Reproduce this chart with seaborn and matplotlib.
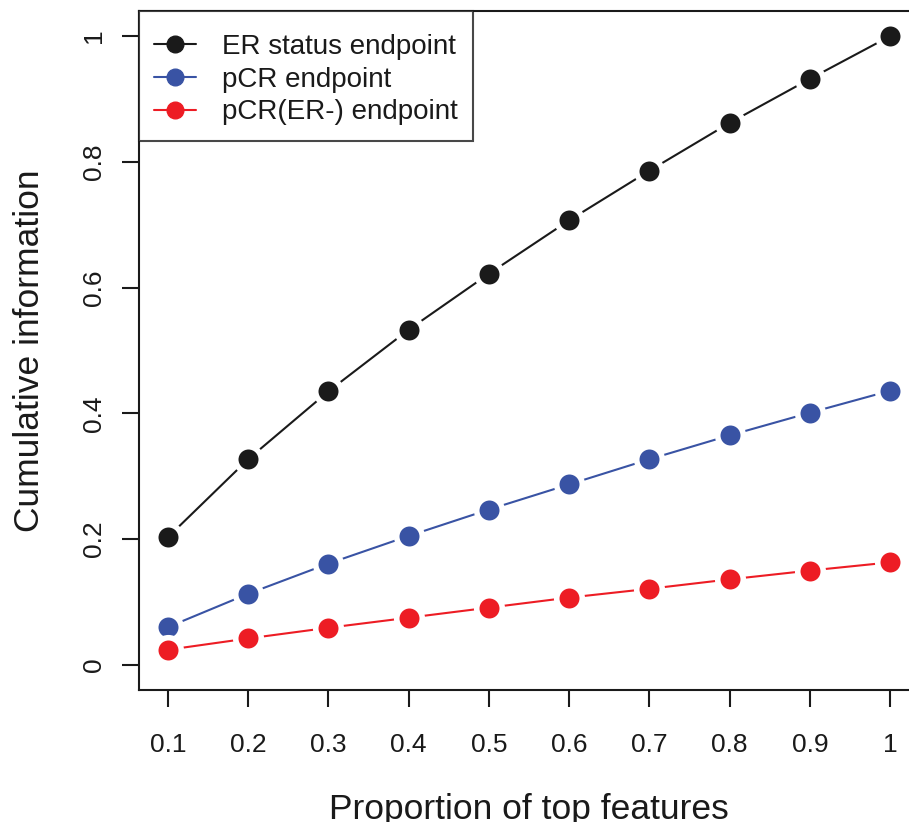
import numpy as np
import pandas as pd
import matplotlib
matplotlib.use("Agg")
import matplotlib.pyplot as plt
from matplotlib.lines import Line2D
import seaborn as sns

sns.set_style("white")
plt.rcParams['font.family'] = ['Liberation Sans', 'DejaVu Sans']

# data
proportion = [0.1, 0.2, 0.3, 0.4, 0.5, 0.6, 0.7, 0.8, 0.9, 1.0]
er_status = [0.203, 0.327, 0.435, 0.533, 0.622, 0.707, 0.786, 0.862, 0.932, 1.0]
pcr = [0.060, 0.113, 0.161, 0.205, 0.247, 0.287, 0.327, 0.365, 0.401, 0.436]
pcr_er_neg = [0.024, 0.042, 0.059, 0.075, 0.091, 0.107, 0.121, 0.136, 0.150, 0.163]
series_names = ["ER status endpoint", "pCR endpoint", "pCR(ER-) endpoint"]
colors = ["#1a1a1a", "#3953a4", "#ed1c24"]
x_ticks = [0.1, 0.2, 0.3, 0.4, 0.5, 0.6, 0.7, 0.8, 0.9, 1.0]
x_ticklabels = ["0.1", "0.2", "0.3", "0.4", "0.5", "0.6", "0.7", "0.8", "0.9", "1"]
y_ticks = [0, 0.2, 0.4, 0.6, 0.8, 1.0]
y_ticklabels = ["0", "0.2", "0.4", "0.6", "0.8", "1"]

df = pd.DataFrame({
    "proportion": proportion * 3,
    "value": er_status + pcr + pcr_er_neg,
    "series": np.repeat(series_names, len(proportion)),
})

fig = plt.figure(figsize=(9.09, 8.22), dpi=100)
ax = fig.add_axes([139 / 909, (822 - 690) / 822, 780 / 909, 679 / 822])

# white marker edge gives the R type="b" gap around points
for name, col in zip(series_names, colors):
    sns.lineplot(data=df[df.series == name], x="proportion", y="value", ax=ax,
                 color=col, linewidth=1.5, marker="o", markersize=18.4,
                 markeredgecolor="white", markeredgewidth=4.0, legend=False)

ax.set_xlim(0.064, 1.036)
ax.set_ylim(-0.04, 1.04)
ax.set_xticks(x_ticks)
ax.set_xticklabels(x_ticklabels)
ax.set_yticks(y_ticks)
ax.set_yticklabels(y_ticklabels, rotation=90, va="center")
ax.tick_params(axis="both", direction="out", length=12, width=1.5,
               labelsize=19, colors="#1a1a1a", pad=19, bottom=True, left=True)
ax.tick_params(axis="y", pad=12)

for sp in ax.spines.values():
    sp.set_visible(True)
    sp.set_color("#1a1a1a")
    sp.set_linewidth(1.5)

ax.set_xlabel("Proportion of top features", fontsize=25.5, color="#1a1a1a", labelpad=26)
ax.set_ylabel("Cumulative information", fontsize=25.5, color="#1a1a1a", labelpad=26)

handles = [Line2D([0], [0], color=c, lw=1.5, marker="o", markersize=12) for c in colors]
# tiny blank title adds the extra top room of the R legend
leg = ax.legend(handles, series_names, loc="upper left", borderaxespad=0,
                fontsize=20, frameon=True, fancybox=False, handlelength=1.5,
                handletextpad=0.94, labelspacing=0.24, borderpad=0.55,
                title=" ", title_fontsize=1)
leg.get_frame().set_edgecolor("#1a1a1a")
leg.get_frame().set_linewidth(1.5)
for t in leg.get_texts():
    t.set_color("#1a1a1a")

fig.savefig("out.png", dpi=100)
